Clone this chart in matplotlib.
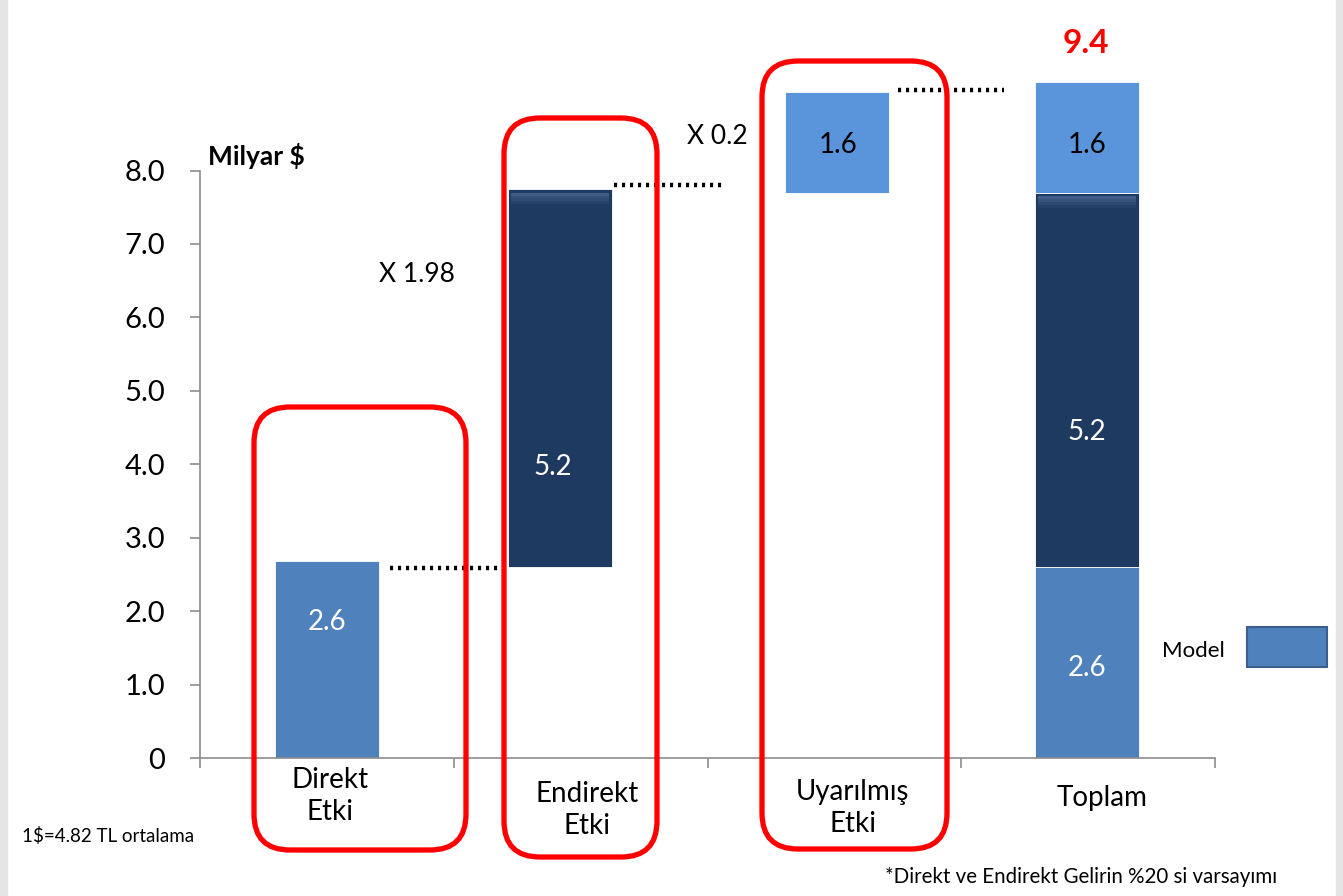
import matplotlib
matplotlib.use("Agg")
import matplotlib.pyplot as plt
from matplotlib.patches import FancyBboxPatch, Rectangle

plt.rcParams["font.family"] = ["Lato", "DejaVu Sans"]

# ── data ─────────────────────────────────────────────
categories   = ["Direkt\nEtki", "Endirekt\nEtki", "Uyarılmış\nEtki", "Toplam"]
step_labels  = ["2.6", "5.2", "1.6"]
step_bottom  = [0.0, 2.6, 7.7]
step_top     = [2.68, 7.75, 9.07]
total_bottom = [0.0, 2.6, 7.7]
total_top    = [2.6, 7.7, 9.2]
total_labels = ["2.6", "5.2", "1.6"]
total_value  = "9.4"
multipliers  = ["X 1.98", "X 0.2"]
yticks       = [0, 1, 2, 3, 4, 5, 6, 7, 8]
ytick_labels = ["0", "1.0", "2.0", "3.0", "4.0", "5.0", "6.0", "7.0", "8.0"]

# ── style ────────────────────────────────────────────
LIGHT  = "#4F81BD"
BRIGHT = "#5A95DC"
DARK   = "#1F3A60"
RED    = "#FF0000"
W, H = 1343, 896

fig = plt.figure(figsize=(W / 100, H / 100), dpi=100)
ax = fig.add_axes([200 / W, 138 / H, 1015 / W, 738 / H])
ax.set_xlim(0, 4)
ax.set_ylim(0, 10.05)


def fx(px):
    return px / W


def fy(py):
    return 1 - py / H


# side strips
fig.patches.append(Rectangle((0, 0), 7 / W, 1, transform=fig.transFigure,
                             color="#E4E5E7", zorder=0))
fig.patches.append(Rectangle((1 - 7 / W, 0), 7 / W, 1, transform=fig.transFigure,
                             color="#E4E5E7", zorder=0))

# ── bars ─────────────────────────────────────────────
step_x     = [0.502, 1.419, 2.51]
step_color = [LIGHT, DARK, BRIGHT]
step_txt   = ["white", "white", "black"]
step_ty    = [1.85, 3.96, 8.35]
step_tx    = [0.502, 1.39, 2.514]
bw = 0.41
for i in range(3):
    ax.bar(step_x[i], step_top[i] - step_bottom[i], bottom=step_bottom[i],
           width=bw, color=step_color[i], edgecolor="#ffffff", linewidth=0.6,
           zorder=2)
    ax.text(step_tx[i], step_ty[i], step_labels[i], color=step_txt[i],
            fontsize=20, ha="center", va="center", zorder=4)

tot_color = [LIGHT, DARK, BRIGHT]
tot_txt   = ["white", "white", "black"]
tot_ty    = [1.23, 4.44, 8.35]
for i in range(3):
    ax.bar(3.496, total_top[i] - total_bottom[i], bottom=total_bottom[i],
           width=bw, color=tot_color[i], edgecolor="#ffffff", linewidth=0.6,
           zorder=2)
    ax.text(3.496, tot_ty[i], total_labels[i], color=tot_txt[i],
            fontsize=20, ha="center", va="center", zorder=4)

# bevel highlight on dark segments (fading band below the top edge)
for xc, y0 in [(1.419, 7.75), (3.496, 7.7)]:
    for k, a in enumerate([0.55, 0.4, 0.25, 0.12]):
        ax.add_patch(Rectangle((xc - bw / 2 + 0.012, y0 - 0.05 - 0.04 * (k + 1)),
                               bw - 0.024, 0.04, color="#5A7BA8",
                               alpha=a, lw=0, zorder=3))

ax.text(3.49, 9.73, total_value, color=RED, fontsize=24, fontweight="bold",
        ha="center", va="center")

# dotted connectors
for x0, x1, y in [(0.75, 1.18, 2.59), (1.63, 2.06, 7.8), (2.75, 3.17, 9.09)]:
    ax.plot([x0, x1], [y, y], color="black", lw=3.2, linestyle=(0, (0.7, 1.1)),
            dash_capstyle="butt", clip_on=False, zorder=3)

ax.text(0.855, 6.58, multipliers[0], fontsize=19, ha="center", va="center")
ax.text(2.04, 8.47, multipliers[1], fontsize=19, ha="center", va="center")
ax.text(0.03, 8.2, "Milyar $", fontsize=19, fontweight="bold",
        ha="left", va="center")

# ── axes ─────────────────────────────────────────────
for s in ["top", "right"]:
    ax.spines[s].set_visible(False)
for s in ["left", "bottom"]:
    ax.spines[s].set_color("#8C8C8C")
    ax.spines[s].set_linewidth(1.2)
ax.spines["left"].set_bounds(0, 8)
ax.set_yticks(yticks)
ax.set_yticklabels(ytick_labels, fontsize=21)
ax.tick_params(axis="y", length=7, width=1.2, color="#8C8C8C", pad=18)
ax.set_xticks([0, 1, 2, 3, 4])
ax.set_xticklabels([])
ax.tick_params(axis="x", length=7, width=1.2, color="#8C8C8C")

# category labels
cat_px = [(330, 796), (587, 810), (853, 808), (1102, 798)]
for lab, (px, py) in zip(categories, cat_px):
    fig.text(fx(px), fy(py), lab, fontsize=20, ha="center", va="center",
             linespacing=1.3)

# red rounded frames (pixel coords, top-left origin)
frames = [(254, 407, 466, 850), (504, 118, 657, 857), (762, 61, 947, 849)]
for x0, y0, x1, y1 in frames:
    box = FancyBboxPatch((x0 / 100, (H - y1) / 100), (x1 - x0) / 100,
                         (y1 - y0) / 100,
                         boxstyle="round,pad=0,rounding_size=0.36",
                         transform=fig.dpi_scale_trans, fill=False,
                         edgecolor=RED, linewidth=3.8, zorder=5)
    fig.patches.append(box)

# legend-like key
fig.text(fx(1225), fy(651), "Model", fontsize=16, ha="right", va="center")
fig.patches.append(Rectangle((fx(1247), fy(667)), fx(80), 40 / H,
                             transform=fig.transFigure, facecolor=LIGHT,
                             edgecolor="#3B5E8C", linewidth=1.5))

fig.text(fx(22), fy(836), "1$=4.82 TL ortalama", fontsize=13.5,
         ha="left", va="center")
fig.text(fx(1277), fy(877), "*Direkt ve Endirekt Gelirin %20 si varsayımı",
         fontsize=14.8, ha="right", va="center")

fig.savefig("out.png", dpi=100)
